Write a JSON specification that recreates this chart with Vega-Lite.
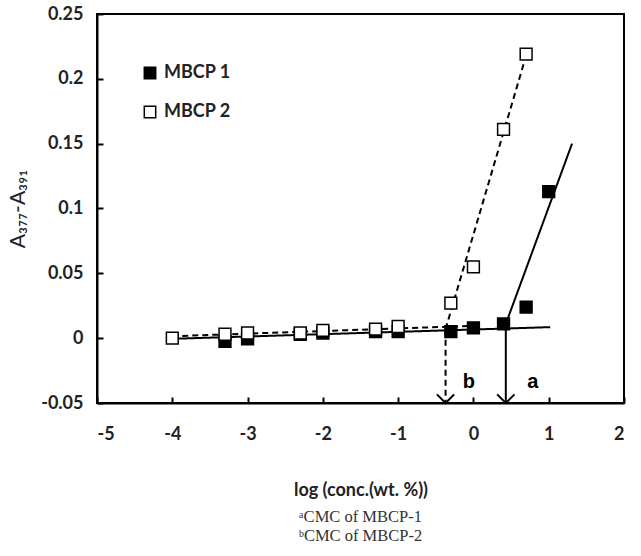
{
  "$schema": "https://vega.github.io/schema/vega-lite/v6.json",
  "width": 527,
  "height": 389,
  "autosize": {"type": "none"},
  "padding": {"left": 97, "top": 14, "right": 17, "bottom": 153},
  "background": "white",
  "config": {
    "view": {"stroke": "black", "strokeWidth": 2},
    "axis": {
      "grid": false,
      "domainColor": "black",
      "domainWidth": 2,
      "tickColor": "black",
      "tickWidth": 2,
      "labelFont": "Lato",
      "labelFontWeight": "bold",
      "labelFontSize": 18,
      "labelColor": "#222",
      "titleFont": "Lato",
      "titleFontWeight": "bold",
      "titleFontSize": 18,
      "titleColor": "#222"
    },
    "legend": {
      "orient": "none",
      "legendX": 44,
      "legendY": 50,
      "title": null,
      "symbolType": "square",
      "symbolSize": 130,
      "symbolStrokeColor": "black",
      "symbolStrokeWidth": 1.5,
      "labelFont": "Lato",
      "labelFontWeight": "bold",
      "labelFontSize": 18,
      "labelColor": "#222",
      "rowPadding": 21,
      "labelOffset": 5
    }
  },
  "title": {
    "text": ["ᵃCMC of MBCP-1", "ᵇCMC of MBCP-2"],
    "orient": "bottom",
    "anchor": "middle",
    "font": "Liberation Serif",
    "fontSize": 16.5,
    "fontWeight": "normal",
    "color": "#333",
    "lineHeight": 19,
    "offset": 10
  },
  "datasets": {
    "points": [
      {"series": "MBCP 1", "x": -3.3, "y": -0.0025},
      {"series": "MBCP 1", "x": -3.0, "y": -0.0005},
      {"series": "MBCP 1", "x": -2.3, "y": 0.003},
      {"series": "MBCP 1", "x": -2.0, "y": 0.004},
      {"series": "MBCP 1", "x": -1.3, "y": 0.005},
      {"series": "MBCP 1", "x": -1.0, "y": 0.005},
      {"series": "MBCP 1", "x": -0.3, "y": 0.005},
      {"series": "MBCP 1", "x": 0.0, "y": 0.008},
      {"series": "MBCP 1", "x": 0.4, "y": 0.011},
      {"series": "MBCP 1", "x": 0.7, "y": 0.024},
      {"series": "MBCP 1", "x": 1.0, "y": 0.113},
      {"series": "MBCP 2", "x": -4.0, "y": 0.0},
      {"series": "MBCP 2", "x": -3.3, "y": 0.003},
      {"series": "MBCP 2", "x": -3.0, "y": 0.004},
      {"series": "MBCP 2", "x": -2.3, "y": 0.004},
      {"series": "MBCP 2", "x": -2.0, "y": 0.006},
      {"series": "MBCP 2", "x": -1.3, "y": 0.007},
      {"series": "MBCP 2", "x": -1.0, "y": 0.009},
      {"series": "MBCP 2", "x": -0.3, "y": 0.027},
      {"series": "MBCP 2", "x": 0.0, "y": 0.055},
      {"series": "MBCP 2", "x": 0.4, "y": 0.161},
      {"series": "MBCP 2", "x": 0.7, "y": 0.219}
    ],
    "fits": [
      {"seg": "1a", "style": "solid", "x": -4.0, "y": -0.0005},
      {"seg": "1a", "style": "solid", "x": 1.02, "y": 0.0085},
      {"seg": "1b", "style": "solid", "x": 0.42, "y": 0.0094},
      {"seg": "1b", "style": "solid", "x": 1.31, "y": 0.150},
      {"seg": "2a", "style": "dashed", "x": -4.0, "y": 0.0015},
      {"seg": "2a", "style": "dashed", "x": -0.05, "y": 0.0094},
      {"seg": "2b", "style": "dashed", "x": -0.37, "y": 0.007},
      {"seg": "2b", "style": "dashed", "x": 0.68, "y": 0.214}
    ],
    "arrows": [
      {"style": "dashed", "x": -0.37, "y": 0.0065, "y2": -0.05},
      {"style": "solid", "x": 0.43, "y": 0.0092, "y2": -0.05}
    ],
    "labels": [
      {"label": "b", "x": -0.06, "y": -0.0335},
      {"label": "a", "x": 0.79, "y": -0.0335}
    ]
  },
  "encoding": {
    "x": {
      "field": "x",
      "type": "quantitative",
      "scale": {"domain": [-5, 2], "nice": false, "zero": false},
      "axis": {
        "title": "log (conc.(wt. %))",
        "values": [-5, -4, -3, -2, -1, 0, 1, 2],
        "tickSize": -6,
        "labelPadding": 28,
        "titlePadding": 38,
        "labelExpr": "replace(format(datum.value, '~g'), '\u2212', '-')"
      }
    },
    "y": {
      "field": "y",
      "type": "quantitative",
      "scale": {"domain": [-0.05, 0.25], "nice": false, "zero": false},
      "axis": {
        "title": "A₃₇₇-A₃₉₁",
        "titleFontSize": 21,
        "titleFontWeight": "normal",
        "values": [-0.05, 0, 0.05, 0.1, 0.15, 0.2, 0.25],
        "tickSize": -6,
        "labelPadding": 20,
        "titlePadding": 12,
        "labelExpr": "replace(format(datum.value, '~g'), '\u2212', '-')"
      }
    }
  },
  "layer": [
    {
      "data": {"name": "fits"},
      "mark": {"type": "line", "color": "black", "strokeWidth": 2},
      "encoding": {
        "detail": {"field": "seg"},
        "strokeDash": {
          "field": "style",
          "type": "nominal",
          "scale": {"domain": ["solid", "dashed"], "range": [[1, 0], [6, 4]]},
          "legend": null
        }
      }
    },
    {
      "data": {"name": "arrows"},
      "mark": {"type": "rule", "color": "black", "strokeWidth": 2},
      "encoding": {
        "y2": {"field": "y2"},
        "strokeDash": {
          "field": "style",
          "type": "nominal",
          "scale": {"domain": ["solid", "dashed"], "range": [[1, 0], [6, 4]]},
          "legend": null
        }
      }
    },
    {
      "data": {"name": "arrows"},
      "mark": {
        "type": "point",
        "shape": "M-1,-1L0,0L1,-1",
        "filled": false,
        "stroke": "black",
        "strokeWidth": 2,
        "size": 300,
        "opacity": 1
      },
      "encoding": {"y": {"field": "y2", "type": "quantitative"}}
    },
    {
      "data": {"name": "points"},
      "mark": {"type": "point", "shape": "square", "filled": true, "stroke": "black", "strokeWidth": 1.5, "size": 140, "opacity": 1},
      "encoding": {
        "fill": {
          "field": "series",
          "type": "nominal",
          "scale": {"domain": ["MBCP 1", "MBCP 2"], "range": ["black", "white"]}
        }
      }
    },
    {
      "data": {"name": "labels"},
      "mark": {"type": "text", "font": "Liberation Sans", "fontWeight": "bold", "fontSize": 20, "color": "black", "align": "center", "baseline": "middle"},
      "encoding": {"text": {"field": "label"}}
    }
  ]
}
